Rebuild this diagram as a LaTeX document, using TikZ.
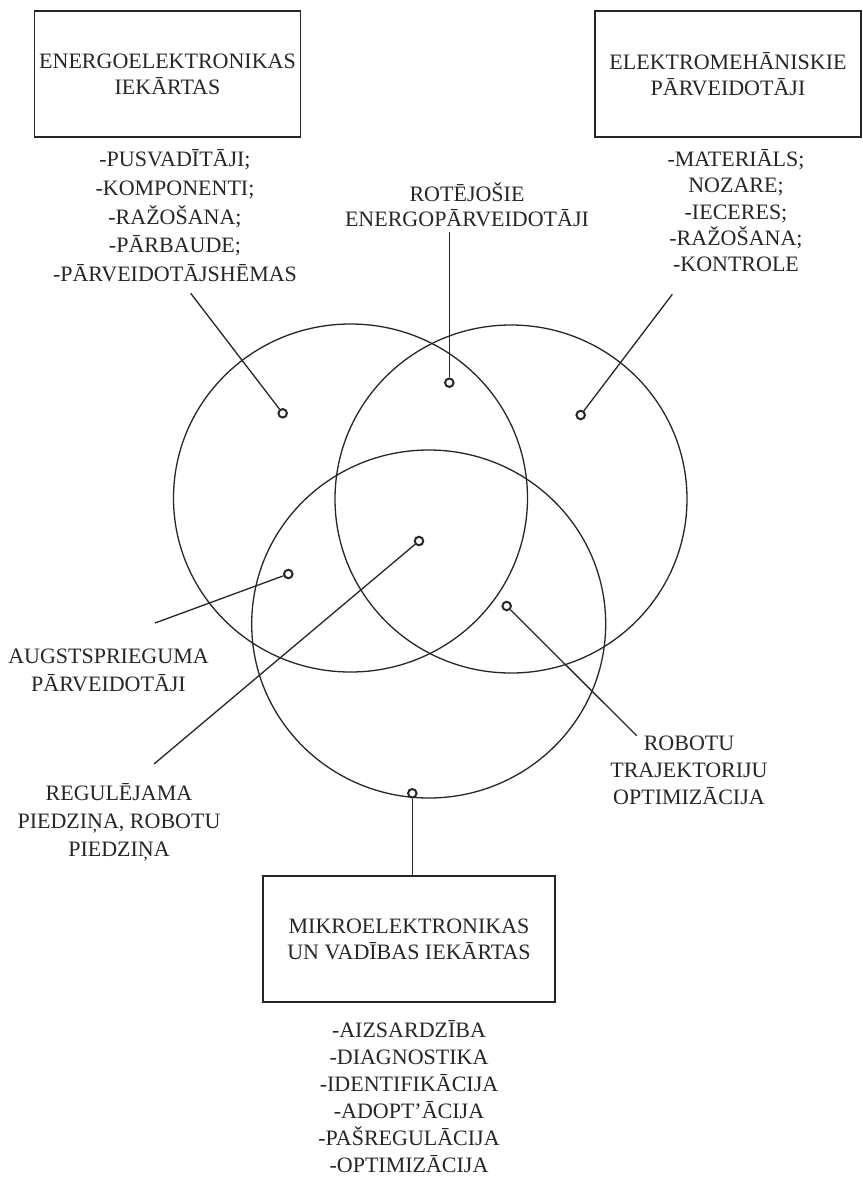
\documentclass[tikz,border=0pt]{standalone}
\usepackage{fontspec}
\setmainfont{Liberation Serif}
\usepackage{tikz}
\usetikzlibrary{
    positioning,                      % below=of, etc.
    shapes.geometric                  % ellipse
}
\definecolor{ink}{RGB}{38,38,38}
\tikzset{
    box/.style={
        rectangle, draw=ink, line width=1.3bp,
        minimum width=266bp, minimum height=126bp,
        align=center, inner sep=0pt, text=ink,
        font=\fontsize{22bp}{26bp}\selectfont
    },
    % base = baseline of the last line
    note/.style={
        align=center, inner sep=0pt, anchor=base, text=ink,
        font=\fontsize{22bp}{28bp}\selectfont
    },
    venn/.style={
        ellipse, draw=ink, line width=1.3bp, inner sep=0pt,
        minimum width=354bp, minimum height=348bp
    },
    ring/.style={
        circle, draw=ink, line width=2bp, fill=white,
        minimum size=8.5bp, inner sep=0pt
    },
    lead/.style={
        draw=ink, line width=1.3bp
    }
}

\begin{document}
\begin{tikzpicture}[x=1bp, y=-1bp]
    \path[use as bounding box] (0,0) rectangle (863,1180);

    % --- Bloki ---
    \node[box] (energo) at (167.5,74) {ENERGOELEKTRONIKAS\\IEKĀRTAS};
    \node[box] (elmeh) at (728,74) {ELEKTROMEHĀNISKIE\\PĀRVEIDOTĀJI};
    \node[box, minimum width=292bp] (mikro) at (409,939)
        {MIKROELEKTRONIKAS\\UN VADĪBAS IEKĀRTAS};

    % --- Saraksti un uzraksti ---
    \node[note, font=\fontsize{22bp}{28.75bp}\selectfont] (energo_list) at (175,281.7)
        {-PUSVADĪTĀJI;\\-KOMPONENTI;\\-RAŽOŠANA;\\-PĀRBAUDE;\\-PĀRVEIDOTĀJSHĒMAS};
    \node[note, font=\fontsize{22bp}{26.25bp}\selectfont] (elmeh_list) at (736,271.7)
        {-MATERIĀLS;\\NOZARE;\\-IECERES;\\-RAŽOŠANA;\\-KONTROLE};
    \node[note, font=\fontsize{22bp}{25bp}\selectfont] (rot) at (467,226.7)
        {ROTĒJOŠIE\\ENERGOPĀRVEIDOTĀJI};
    \node[note] (augst) at (108.5,691.5) {AUGSTSPRIEGUMA\\PĀRVEIDOTĀJI};
    \node[note] (regul) at (119,856) {REGULĒJAMA\\PIEDZIŅA, ROBOTU\\PIEDZIŅA};
    \node[note, font=\fontsize{22bp}{27bp}\selectfont] (robo) at (689,804)
        {ROBOTU\\TRAJEKTORIJU\\OPTIMIZĀCIJA};
    \node[note, font=\fontsize{22bp}{27bp}\selectfont] (mikro_list) at (409,1172)
        {-AIZSARDZĪBA\\-DIAGNOSTIKA\\-IDENTIFIKĀCIJA\\-ADOPT'ĀCIJA\\-PAŠREGULĀCIJA\\-OPTIMIZĀCIJA};

    % --- Apli ---
    \node[venn] (c_energo) at (350.5,498) {};
    \node[venn, minimum width=352bp] (c_elmeh) at (511,499) {};
    \node[venn] (c_mikro) at (428.7,624) {};

    % --- Izvadu galapunkti ---
    \coordinate (e_energo) at (190.7,293.3);
    \coordinate (e_rot) at (449.3,231.7);
    \coordinate (e_elmeh) at (672.3,294.3);
    \coordinate (e_augst) at (155,623);
    \coordinate (e_regul) at (154,764);
    \coordinate (e_robo) at (636.7,735.7);

    % --- Punkti ---
    \node[ring] (p_energo) at (282.7,413.3) {};
    \node[ring] (p_rot) at (449.3,382.7) {};
    \node[ring] (p_elmeh) at (580.7,415) {};
    \node[ring] (p_augst) at (288.3,574) {};
    \node[ring] (p_regul) at (419,541) {};
    \node[ring] (p_robo) at (506.7,606) {};
    \node[ring] (p_mikro) at (412.3,793.3) {};

    \draw[lead] (e_energo) -- (p_energo);
    \draw[lead] (e_rot) -- (p_rot);
    \draw[lead] (e_elmeh) -- (p_elmeh);
    \draw[lead] (e_augst) -- (p_augst);
    \draw[lead] (e_regul) -- (p_regul);
    \draw[lead] (e_robo) -- (p_robo);
    \draw[lead] (p_mikro) -- (p_mikro |- mikro.north);
\end{tikzpicture}
\end{document}
